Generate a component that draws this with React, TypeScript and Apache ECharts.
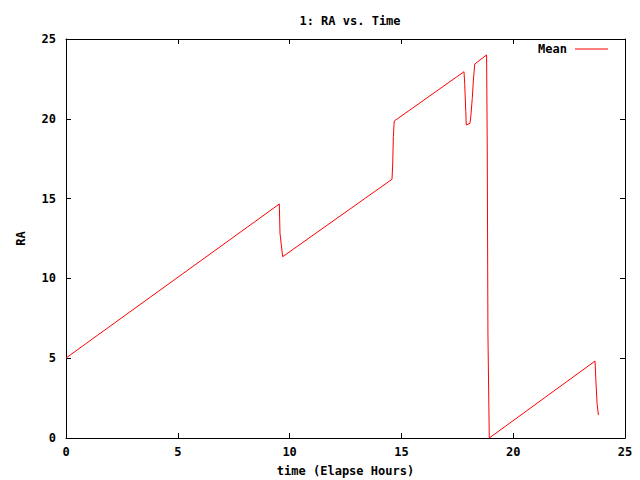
import React, { useEffect, useRef } from "react";
import * as echarts from "echarts";

const timeHours = [
  0, 9.54, 9.57, 9.63, 9.69, 14.58, 14.61, 14.64, 14.68, 17.8, 17.83, 17.88,
  17.9, 17.92, 18.07, 18.11, 18.17, 18.22, 18.28, 18.81, 18.84, 18.87, 18.93,
  23.66, 23.7, 23.75, 23.81,
];
const raMean = [
  5.01, 14.66, 12.83, 12.09, 11.36, 16.21, 17.11, 18.88, 19.86, 22.95, 22.22,
  20.45, 19.61, 19.61, 19.72, 20.24, 21.28, 22.43, 23.43, 24.0, 18.05, 6.58, 0,
  4.82, 3.53, 2.17, 1.44,
];
const seriesName = "Mean";
const chartTitle = "1: RA vs. Time";
const xName = "time (Elapse Hours)";
const yName = "RA";

const FONT = "'DejaVu Sans Mono', monospace";

export default function App() {
  const ref = useRef<HTMLDivElement>(null);
  useEffect(() => {
    if (!ref.current) return;
    const chart = echarts.init(ref.current, undefined, { renderer: "svg" });
    const txt = { fontFamily: FONT, fontSize: 12, fontWeight: "bold" as const, color: "#000" };
    const axisCommon = {
      type: "value" as const,
      min: 0,
      max: 25,
      interval: 5,
      splitLine: { show: false },
      axisLine: { show: true, onZero: false, lineStyle: { color: "#000", width: 1 } },
      axisTick: { show: true, inside: true, length: 5, lineStyle: { color: "#000", width: 1 } },
    };
    chart.setOption({
      animation: false,
      backgroundColor: "#fff",
      title: {
        text: chartTitle,
        left: 345,
        top: 10,
        textAlign: "center",
        textStyle: { ...txt },
      },
      legend: {
        data: [{ name: seriesName, icon: "rect" }],
        right: 27,
        top: 38,
        align: "right",
        itemWidth: 33,
        itemHeight: 1,
        textStyle: { ...txt, padding: [0, 3, 0, 0] },
      },
      grid: { left: 66, right: 15, top: 39, bottom: 42, outerBoundsMode: "none", containLabel: false },
      xAxis: [
        {
          ...axisCommon,
          position: "bottom",
          name: xName,
          nameLocation: "middle",
          nameGap: 27,
          nameTextStyle: { ...txt },
          axisLabel: { ...txt, margin: 8 },
        },
        {
          ...axisCommon,
          position: "top",
          axisLabel: { show: false },
        },
      ],
      yAxis: [
        {
          ...axisCommon,
          position: "left",
          name: yName,
          nameLocation: "middle",
          nameRotate: 90,
          nameGap: 39,
          nameTextStyle: { ...txt },
          axisLabel: { ...txt, margin: 10 },
        },
        {
          ...axisCommon,
          position: "right",
          axisLabel: { show: false },
        },
      ],
      series: [
        {
          name: seriesName,
          type: "line",
          xAxisIndex: 0,
          yAxisIndex: 0,
          data: timeHours.map((t, i) => [t, raMean[i]]),
          symbol: "none",
          showSymbol: false,
          lineStyle: { color: "#ff0000", width: 1 },
          itemStyle: { color: "#ff0000" },
        },
      ],
    });
    return () => chart.dispose();
  }, []);
  return (
    <div
      ref={ref}
      style={{ position: "fixed", left: 0, top: 0, width: 640, height: 480 }}
    />
  );
}
